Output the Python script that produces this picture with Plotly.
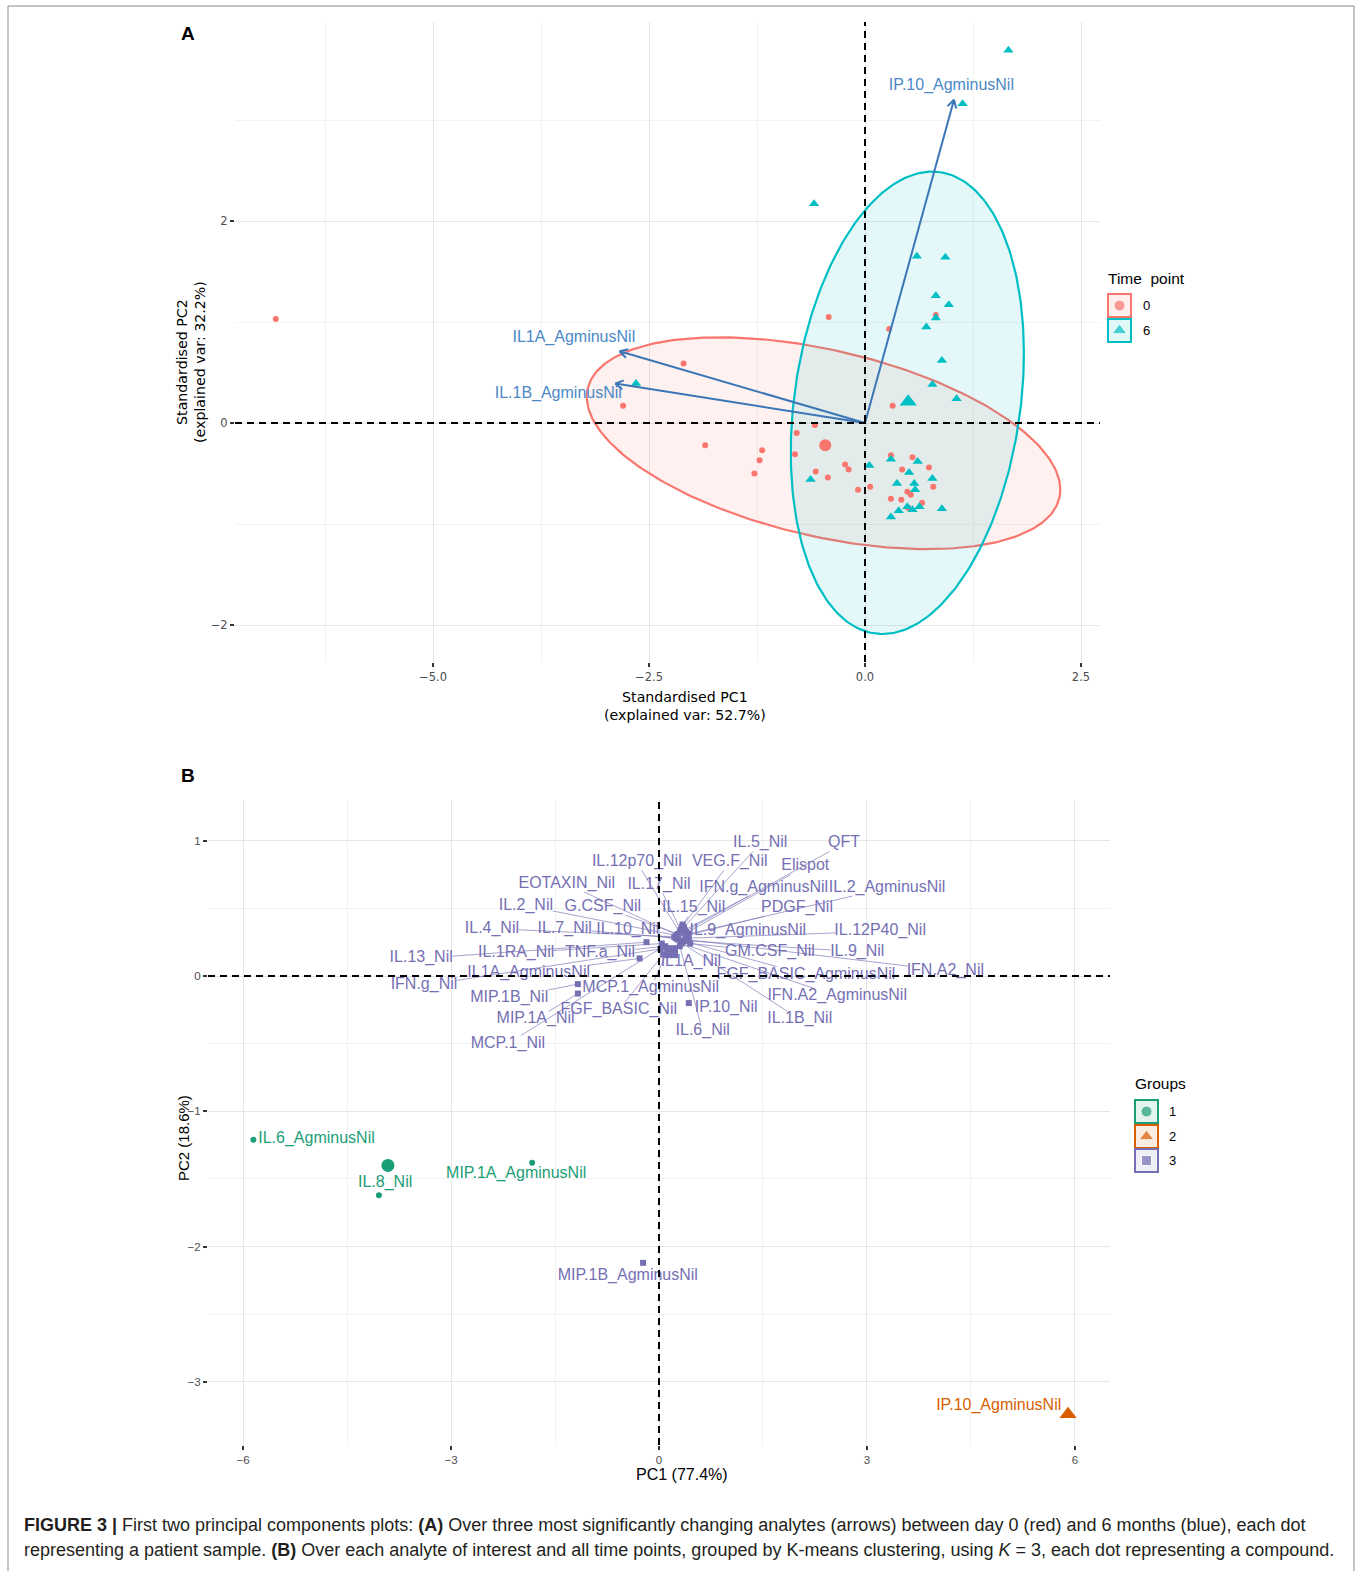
import numpy as np
import plotly.graph_objects as go

# ======================= DATA =======================
# ---- Panel A : patient samples on standardised PC1 / PC2 ----
t0_pc1 = [-6.82, -0.42, 0.28, 0.82, -2.10, -2.80, 0.32, -0.58, -0.79, -1.85, -1.19, -1.22, -1.28,
          -0.81, -0.57, -0.43, -0.23, -0.19, -0.08, 0.06, 0.30, 0.55, 0.43, 0.74, 0.79, 0.49,
          0.53, 0.30, 0.42, 0.66, 0.50]
t0_pc2 = [1.03, 1.05, 0.93, 1.07, 0.59, 0.17, 0.17, -0.02, -0.10, -0.22, -0.27, -0.37, -0.50,
          -0.31, -0.48, -0.54, -0.41, -0.46, -0.66, -0.63, -0.32, -0.34, -0.46, -0.44, -0.63, -0.68,
          -0.71, -0.75, -0.76, -0.79, -0.84]
t6_pc1 = [1.66, 1.13, -0.59, 0.60, 0.93, 0.82, 0.97, 0.82, 0.71, 0.89, 0.78, 1.06, -2.65, 0.05,
          -0.63, 0.30, 0.61, 0.51, 0.78, 0.37, 0.57, 0.58, 0.39, 0.30, 0.49, 0.55, 0.63, 0.89]
t6_pc2 = [3.69, 3.16, 2.17, 1.65, 1.64, 1.26, 1.17, 1.04, 0.95, 0.62, 0.38, 0.24, 0.39, -0.42,
          -0.56, -0.36, -0.38, -0.49, -0.55, -0.60, -0.60, -0.66, -0.87, -0.93, -0.83, -0.86, -0.83, -0.85]
time_levels = ["0", "6"]
centroid_pc1 = [-0.46, 0.50]
centroid_pc2 = [-0.22, 0.21]
# normal-data ellipses: centre and covariance-like matrix (PC1, PC2)
ellipse_centre = [(-0.48, -0.20), (0.49, 0.20)]
ellipse_cov = [[[7.51, -1.26], [-1.26, 1.10]],
               [[1.82, 0.66], [0.66, 5.24]]]
# loading arrows
arrow_names = ["IL1A_AgminusNil", "IL.1B_AgminusNil", "IP.10_AgminusNil"]
arrow_pc1 = [-2.84, -2.89, 1.03]
arrow_pc2 = [0.71, 0.39, 3.20]
arrow_label_pc1 = [-3.37, -3.55, 1.00]
arrow_label_pc2 = [0.84, 0.29, 3.34]

# ---- Panel B : analytes on PC1 / PC2 with k-means groups ----
analytes = ["IL.5_Nil", "QFT", "IL.12p70_Nil", "VEG.F_Nil", "Elispot", "EOTAXIN_Nil", "IL.17_Nil",
            "IFN.g_AgminusNil", "IL.2_AgminusNil", "IL.2_Nil", "G.CSF_Nil", "IL.15_Nil", "PDGF_Nil",
            "IL.4_Nil", "IL.7_Nil", "IL.10_Nil", "IL.9_AgminusNil", "IL.12P40_Nil", "IL.13_Nil",
            "IL.1RA_Nil", "TNF.a_Nil", "GM.CSF_Nil", "IL.9_Nil", "IL1A_Nil", "IL1A_AgminusNil",
            "FGF_BASIC_AgminusNil", "IFN.A2_Nil", "IFN.g_Nil", "MCP.1_AgminusNil", "MIP.1B_Nil",
            "IFN.A2_AgminusNil", "MIP.1A_Nil", "FGF_BASIC_Nil", "IP.10_Nil", "IL.1B_Nil", "IL.6_Nil",
            "MCP.1_Nil", "MIP.1B_AgminusNil", "IL.6_AgminusNil", "IL.8_Nil", "MIP.1A_AgminusNil",
            "IP.10_AgminusNil"]
pc1 = [0.36, 0.38, 0.30, 0.33, 0.40, 0.28, 0.31, 0.37, 0.42, 0.25, 0.27, 0.34, 0.40,
       0.22, 0.24, 0.27, 0.38, 0.43, -0.18, 0.04, 0.09, 0.45, 0.41, 0.21, -0.28,
       0.35, 0.39, 0.02, 0.12, -1.17, 0.33, -1.17, 0.06, 0.43, 0.31, 0.30,
       0.04, -0.23, -5.85, -4.04, -1.83, 5.90]
pc2 = [0.36, 0.33, 0.32, 0.36, 0.32, 0.30, 0.34, 0.34, 0.31, 0.30, 0.31, 0.38, 0.30,
       0.29, 0.28, 0.27, 0.29, 0.28, 0.25, 0.24, 0.22, 0.24, 0.26, 0.17, 0.13,
       0.26, 0.27, 0.20, 0.18, -0.06, 0.24, -0.13, 0.16, -0.20, 0.25, 0.22,
       0.21, -2.12, -1.21, -1.62, -1.38, -3.24]
group = [3] * 38 + [1, 1, 1, 2]
group_centroid_pc1 = [-3.91, 5.90, 0.18]
group_centroid_pc2 = [-1.40, -3.24, 0.18]

# ---- label placement (text-repel layout, data units) ----
label_pc1 = [1.46, 2.67, -0.32, 1.02, 2.11, -1.33, 0.00, 1.51, 3.29, -1.92, -0.81, 0.50, 1.99,
             -2.41, -1.36, -0.45, 1.28, 3.19, -3.43, -2.06, -0.85, 1.60, 2.86, 0.46, -1.88,
             2.12, 4.13, -3.39, -0.12, -2.16, 2.57, -1.78, -0.58, 0.97, 2.03, 0.63,
             -2.18, -0.45, -4.94, -3.95, -2.06, 4.90]
label_pc2 = [0.98, 0.98, 0.84, 0.84, 0.81, 0.68, 0.67, 0.65, 0.65, 0.52, 0.51, 0.50, 0.50,
             0.35, 0.35, 0.34, 0.33, 0.33, 0.13, 0.17, 0.17, 0.18, 0.18, 0.10, 0.02,
             0.01, 0.04, -0.07, -0.09, -0.16, -0.15, -0.32, -0.25, -0.24, -0.32, -0.41,
             -0.50, -2.22, -1.205, -1.53, -1.46, -3.18]

# ======================= LAYOUT GEOMETRY =======================
W, H = 1363, 1571
FONT = "Liberation Sans, Arial, Helvetica, sans-serif"
FONT2 = "DejaVu Sans, Verdana, sans-serif"
LBL = 16  # label font size
# panel A (pixels)
A_L, A_R, A_T, A_B = 235, 1100, 22, 662
A_X0, A_XS, A_Y0, A_YS = 865.0, 86.4, 423.0, 101.0
# panel B (pixels)
B_L, B_R, B_T, B_B = 208, 1110, 800, 1445
B_X0, B_XS, B_Y0, B_YS = 659.0, 69.33, 976.0, 135.3

def a_px(x, y):
    return A_X0 + A_XS * x, A_Y0 - A_YS * y

def a_data(px, py):
    return (px - A_X0) / A_XS, (A_Y0 - py) / A_YS

def b_px(x, y):
    return B_X0 + B_XS * x, B_Y0 - B_YS * y

def b_data(px, py):
    return (px - B_X0) / B_XS, (B_Y0 - py) / B_YS

RED, TEAL = "#F8766D", "#00BFC4"
ARROW, ARROW_TXT = "#3B76B6", "#4B88C6"
GCOL = {1: "#1B9E77", 2: "#D95F02", 3: "#7570B3"}
GSYM = {1: "circle", 2: "triangle-up", 3: "square"}

AW = {'A': 667, 'B': 667, 'C': 722, 'D': 722, 'E': 667, 'F': 611, 'G': 778, 'H': 722, 'I': 278,
      'J': 500, 'K': 667, 'L': 556, 'M': 833, 'N': 722, 'O': 778, 'P': 667, 'Q': 778, 'R': 722,
      'S': 667, 'T': 611, 'U': 722, 'V': 667, 'W': 944, 'X': 667, 'Y': 667, 'Z': 611,
      'a': 556, 'b': 556, 'c': 500, 'd': 556, 'e': 556, 'f': 278, 'g': 556, 'h': 556, 'i': 222,
      'j': 222, 'k': 500, 'l': 222, 'm': 833, 'n': 556, 'o': 556, 'p': 556, 'q': 556, 'r': 333,
      's': 500, 't': 278, 'u': 556, 'v': 500, 'w': 722, 'x': 500, 'y': 500, 'z': 500,
      '.': 278, '_': 556, ' ': 278}

def text_w(s, size):
    return sum(AW.get(ch, 556) for ch in s) / 1000.0 * size * 0.95

def rgba(hexc, a):
    h = hexc.lstrip('#')
    return "rgba(%d,%d,%d,%.3f)" % (int(h[0:2], 16), int(h[2:4], 16), int(h[4:6], 16), a)

fig = go.Figure()

# ======================= PANEL A =======================
for (c, S, col) in zip(ellipse_centre, ellipse_cov, [RED, TEAL]):
    L = np.linalg.cholesky(np.array(S))
    t = np.linspace(0, 2 * np.pi, 300)
    pts = np.array(c)[:, None] + L @ np.vstack([np.cos(t), np.sin(t)])
    fig.add_trace(go.Scatter(x=pts[0], y=pts[1], mode="lines", fill="toself",
                             fillcolor=rgba(col, 0.10), line=dict(color=col, width=2.2),
                             xaxis="x", yaxis="y", hoverinfo="skip"))

fig.add_trace(go.Scatter(x=t0_pc1, y=t0_pc2, mode="markers", xaxis="x", yaxis="y",
                         marker=dict(symbol="circle", size=6, color=RED)))
fig.add_trace(go.Scatter(x=t6_pc1, y=t6_pc2, mode="markers", xaxis="x", yaxis="y",
                         marker=dict(symbol="triangle-up", size=9, color=TEAL)))
fig.add_trace(go.Scatter(x=[centroid_pc1[0]], y=[centroid_pc2[0]], mode="markers", xaxis="x", yaxis="y",
                         marker=dict(symbol="circle", size=12, color=RED)))
fig.add_trace(go.Scatter(x=[centroid_pc1[1]], y=[centroid_pc2[1]], mode="markers", xaxis="x", yaxis="y",
                         marker=dict(symbol="triangle-up", size=15, color=TEAL)))

# arrows with open heads
ax_, ay_ = [], []
for tx, ty in zip(arrow_pc1, arrow_pc2):
    p0 = np.array(a_px(0, 0))
    p1 = np.array(a_px(tx, ty))
    u = (p1 - p0) / np.linalg.norm(p1 - p0)
    ax_ += [0, tx, None]
    ay_ += [0, ty, None]
    for ang in (np.radians(30), -np.radians(30)):
        rot = np.array([[np.cos(ang), -np.sin(ang)], [np.sin(ang), np.cos(ang)]])
        hp = p1 - 9 * (rot @ u)
        hx, hy = a_data(*hp)
        ax_ += [hx, tx, None]
        ay_ += [hy, ty, None]
fig.add_trace(go.Scatter(x=ax_, y=ay_, mode="lines", xaxis="x", yaxis="y",
                         line=dict(color=ARROW, width=2), hoverinfo="skip"))
fig.add_trace(go.Scatter(x=arrow_label_pc1, y=arrow_label_pc2, text=arrow_names, mode="text",
                         xaxis="x", yaxis="y", textposition="middle center",
                         textfont=dict(family=FONT, size=LBL, color=ARROW_TXT)))

# ======================= PANEL B =======================
seg_x, seg_y = [], []
for name, x, y, lx, ly, g in zip(analytes, pc1, pc2, label_pc1, label_pc2, group):
    if g != 3:
        continue
    P = np.array(b_px(x, y))
    C = np.array(b_px(lx, ly))
    hw = text_w(name, LBL) / 2 + 1
    hh = 8
    d = P - C
    if abs(d[0]) <= hw and abs(d[1]) <= hh:
        continue
    tt = min(hw / abs(d[0]) if d[0] != 0 else np.inf, hh / abs(d[1]) if d[1] != 0 else np.inf)
    S0 = C + d * tt
    if np.linalg.norm(P - S0) < 9:
        continue
    sx, sy = b_data(*S0)
    seg_x += [sx, x, None]
    seg_y += [sy, y, None]
fig.add_trace(go.Scatter(x=seg_x, y=seg_y, mode="lines", xaxis="x2", yaxis="y2",
                         line=dict(color=rgba(GCOL[3], 0.8), width=0.8), hoverinfo="skip"))

for g in (1, 2, 3):
    idx = [i for i, gg in enumerate(group) if gg == g]
    fig.add_trace(go.Scatter(x=[pc1[i] for i in idx], y=[pc2[i] for i in idx], mode="markers",
                             xaxis="x2", yaxis="y2",
                             marker=dict(symbol=GSYM[g], size=6, color=GCOL[g])))
    fig.add_trace(go.Scatter(x=[group_centroid_pc1[g - 1]], y=[group_centroid_pc2[g - 1]],
                             mode="markers", xaxis="x2", yaxis="y2",
                             marker=dict(symbol=GSYM[g], size=13 if g != 2 else 15, color=GCOL[g])))
for g in (3, 1, 2):
    idx = [i for i, gg in enumerate(group) if gg == g]
    fig.add_trace(go.Scatter(x=[label_pc1[i] for i in idx], y=[label_pc2[i] for i in idx],
                             text=[analytes[i] for i in idx], mode="text", xaxis="x2", yaxis="y2",
                             textposition="middle center",
                             textfont=dict(family=FONT, size=LBL, color=GCOL[g])))

# ======================= LEGENDS (pixel overlay axis) =======================
fig.add_trace(go.Scatter(x=[1119.5, 1119.5], y=[305.5, 330.5], mode="markers", xaxis="x3", yaxis="y3",
                         marker=dict(symbol=["circle", "triangle-up"], size=[11, 13], color=[RED, TEAL])))
fig.add_trace(go.Scatter(x=[1146.5] * 3, y=[1111.5, 1136.5, 1160.5], mode="markers", xaxis="x3", yaxis="y3",
                         marker=dict(symbol=["circle", "triangle-up", "square"], size=[11, 13, 10],
                                     color=[GCOL[1], GCOL[2], GCOL[3]])))

shapes = []
for (y0, col) in [(294, RED), (319, TEAL)]:
    shapes.append(dict(type="rect", xref="x3", yref="y3", x0=1108, x1=1131, y0=y0, y1=y0 + 23,
                       line=dict(color=col, width=2), fillcolor=rgba(col, 0.12), layer="below"))
for (y0, g) in [(1100, 1), (1125, 2), (1149, 3)]:
    shapes.append(dict(type="rect", xref="x3", yref="y3", x0=1135, x1=1158, y0=y0, y1=y0 + 23,
                       line=dict(color=GCOL[g], width=2), fillcolor=rgba(GCOL[g], 0.12), layer="below"))

# dashed zero lines
for xa_, ya_ in [("x", "y"), ("x2", "y2")]:
    shapes.append(dict(type="line", xref=xa_, yref=ya_ + " domain", x0=0, x1=0, y0=0, y1=1,
                       line=dict(color="black", width=2, dash="7px,5px"), layer="above"))
    shapes.append(dict(type="line", xref=xa_ + " domain", yref=ya_, x0=0, x1=1, y0=0, y1=0,
                       line=dict(color="black", width=2, dash="7px,5px"), layer="above"))

# outer frame
FR = "#8A8A8A"
shapes.append(dict(type="line", xref="paper", yref="paper", x0=8 / W, x1=8 / W, y0=0, y1=1 - 6 / H,
                   line=dict(color=FR, width=1)))
shapes.append(dict(type="line", xref="paper", yref="paper", x0=1354 / W, x1=1354 / W, y0=0, y1=1 - 6 / H,
                   line=dict(color=FR, width=1)))
shapes.append(dict(type="line", xref="paper", yref="paper", x0=8 / W, x1=1354 / W, y0=1 - 6 / H, y1=1 - 6 / H,
                   line=dict(color=FR, width=1)))

ann = []
def txt(x, y, s, size=13, family=FONT, color="black", xanchor="center", angle=0):
    ann.append(dict(xref="x3", yref="y3", x=x, y=y, text=s, showarrow=False, xanchor=xanchor,
                    yanchor="middle", textangle=angle, font=dict(size=size, family=family, color=color)))

txt(188, 33, "<b>A</b>", size=19)
txt(188, 775, "<b>B</b>", size=19)
txt(685, 706, "Standardised PC1<br>(explained var: 52.7%)", size=14.2, family=FONT2)
txt(191, 362, "Standardised PC2<br>(explained var: 32.2%)", size=14.2, family=FONT2, angle=-90)
txt(682, 1474, "PC1 (77.4%)", size=16)
txt(183, 1138, "PC2 (18.6%)", size=15, angle=-90)
txt(1106, 278, "Time\u00a0 point", size=15.5, xanchor="left")
txt(1141, 305.5, "0", size=13, xanchor="left")
txt(1141, 330.5, "6", size=13, xanchor="left")
txt(1133, 1083, "Groups", size=15.5, xanchor="left")
txt(1167, 1111.5, "1", size=13, xanchor="left")
txt(1167, 1136.5, "2", size=13, xanchor="left")
txt(1167, 1160.5, "3", size=13, xanchor="left")
txt(22, 1525, "<b>FIGURE 3 |</b> First two principal components plots: <b>(A)</b> Over three most significantly "
             "changing analytes (arrows) between day 0 (red) and 6 months (blue), each dot",
    size=18, color="#231F20", xanchor="left")
txt(22, 1550, "representing a patient sample. <b>(B)</b> Over each analyte of interest and all time points, "
             "grouped by K-means clustering, using <i>K</i> = 3, each dot representing a compound.",
    size=18, color="#231F20", xanchor="left")

# ======================= AXES =======================
def axis_style(tfont):
    return dict(showline=False, zeroline=False, showgrid=True, gridcolor="#E6E6E6", gridwidth=1.1,
                ticks="outside", ticklen=4, tickwidth=1.6, tickcolor="#333333",
                tickfont=dict(size=11.5, color="#4D4D4D", family=tfont), fixedrange=True)

xa = axis_style(FONT2)
xa.update(domain=[A_L / W, A_R / W], range=[(A_L - A_X0) / A_XS, (A_R - A_X0) / A_XS], anchor="y",
          tickmode="linear", tick0=0, dtick=2.5, tickformat=".1f",
          minor=dict(dtick=1.25, tick0=0, showgrid=True, gridcolor="#F3F3F3", gridwidth=1, ticks=""))
ya = axis_style(FONT2)
ya.update(domain=[1 - A_B / H, 1 - A_T / H], range=[(A_Y0 - A_B) / A_YS, (A_Y0 - A_T) / A_YS], anchor="x",
          tickmode="linear", tick0=0, dtick=2,
          minor=dict(dtick=1, tick0=0, showgrid=True, gridcolor="#F3F3F3", gridwidth=1, ticks=""))
xb = axis_style(FONT)
xb.update(domain=[B_L / W, B_R / W], range=[(B_L - B_X0) / B_XS, (B_R - B_X0) / B_XS], anchor="y2",
          tickmode="linear", tick0=0, dtick=3,
          minor=dict(dtick=1.5, tick0=0, showgrid=True, gridcolor="#F3F3F3", gridwidth=1, ticks=""))
yb = axis_style(FONT)
yb.update(domain=[1 - B_B / H, 1 - B_T / H], range=[(B_Y0 - B_B) / B_YS, (B_Y0 - B_T) / B_YS], anchor="x2",
          tickmode="linear", tick0=0, dtick=1,
          minor=dict(dtick=0.5, tick0=0, showgrid=True, gridcolor="#F3F3F3", gridwidth=1, ticks=""))

fig.update_layout(
    width=W, height=H, margin=dict(l=0, r=0, t=0, b=0), template="none",
    paper_bgcolor="white", plot_bgcolor="rgba(0,0,0,0)", showlegend=False,
    font=dict(family=FONT), hovermode=False,
    xaxis=xa, yaxis=ya, xaxis2=xb, yaxis2=yb,
    xaxis3=dict(domain=[0, 1], range=[0, W], visible=False, anchor="y3", fixedrange=True),
    yaxis3=dict(domain=[0, 1], range=[H, 0], visible=False, anchor="x3", fixedrange=True),
    shapes=shapes, annotations=ann,
)

fig.write_html("out.html", config={"displayModeBar": False},
               post_script="document.body.style.margin='0px';document.body.style.overflow='hidden';")
